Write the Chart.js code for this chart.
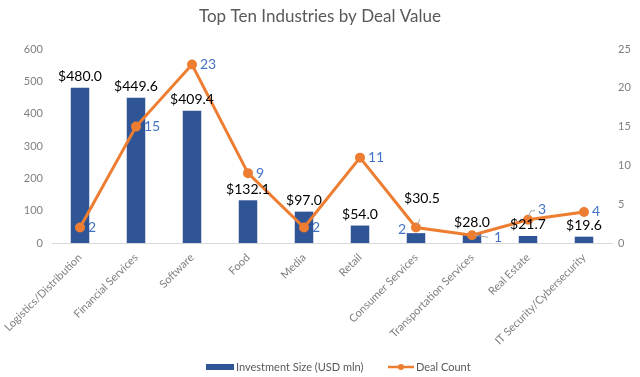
<!DOCTYPE html>
<html>
<head>
<meta charset="utf-8">
<script src="https://cdn.jsdelivr.net/npm/chart.js@4"></script>
<style>
  html, body { margin: 0; padding: 0; background: #fff; }
  #wrap { width: 640px; height: 377px; }
</style>
</head>
<body>
<div id="wrap"><canvas id="chart" width="640" height="377"></canvas></div>
<script>
// data
const industries = [
  "Logistics/Distribution", "Financial Services", "Software", "Food", "Media",
  "Retail", "Consumer Services", "Transportation Services", "Real Estate",
  "IT Security/Cybersecurity"
];
const investment = [480.0, 449.6, 409.4, 132.1, 97.0, 54.0, 30.5, 28.0, 21.7, 19.6];
const dealCount = [2, 15, 23, 9, 2, 11, 2, 1, 3, 4];

const BLUE = "#2F5597";
const ORANGE = "#ED7D31";
const LABEL_BLUE = "#4472C4";
const GREY = "#7F7F7F";
const FONT = "Lato, 'Open Sans', sans-serif";

// label nudges for the few labels Excel moved by hand
const barLabelShift = { 6: [6, -24] };
const countLabelShift = {
  6: { dx: -10, dy: 2, align: "right" },
  7: { dx: 22, dy: 2, align: "left", leader: "flat" },
  8: { dx: 10, dy: -10, align: "left", leader: "elbow" }
};

// value labels, title and legend
const decorations = {
  id: "decorations",
  afterDatasetsDraw(chart) {
    const ctx = chart.ctx;
    ctx.save();

    // bar labels
    const barMeta = chart.getDatasetMeta(1);
    ctx.font = "14px " + FONT;
    ctx.fillStyle = "#000";
    ctx.textAlign = "center";
    ctx.textBaseline = "middle";
    barMeta.data.forEach((bar, i) => {
      const s = barLabelShift[i] || [0, 0];
      ctx.fillText("$" + investment[i].toFixed(1), bar.x + s[0], bar.y - 11 + s[1]);
      if (barLabelShift[i]) {
        ctx.strokeStyle = "#A6A6A6";
        ctx.lineWidth = 1;
        ctx.beginPath();
        ctx.moveTo(bar.x + 4, bar.y - 14);
        ctx.lineTo(bar.x + 1, bar.y - 8);
        ctx.stroke();
      }
    });

    // line labels
    const lineMeta = chart.getDatasetMeta(0);
    ctx.font = "14px " + FONT;
    ctx.fillStyle = LABEL_BLUE;
    lineMeta.data.forEach((pt, i) => {
      const s = countLabelShift[i] || { dx: 8, dy: 0, align: "left" };
      const tx = pt.x + s.dx, ty = pt.y + s.dy;
      ctx.strokeStyle = "#A6A6A6";
      ctx.lineWidth = 1;
      if (s.leader === "elbow") {
        ctx.beginPath();
        ctx.moveTo(pt.x, pt.y - 3);
        ctx.lineTo(pt.x + 3, pt.y - 9);
        ctx.lineTo(pt.x + 7, pt.y - 9);
        ctx.stroke();
      } else if (s.leader === "flat") {
        ctx.beginPath();
        ctx.moveTo(pt.x + 3, pt.y);
        ctx.lineTo(tx - 6, ty);
        ctx.stroke();
      }
      ctx.textAlign = s.align;
      ctx.fillText(String(dealCount[i]), tx, ty);
    });

    // title
    ctx.fillStyle = "#595959";
    ctx.font = "17px " + FONT;
    ctx.textAlign = "center";
    ctx.fillText("Top Ten Industries by Deal Value", 320, 17);

    // legend
    const ly = 367;
    ctx.font = "11px " + FONT;
    ctx.textAlign = "left";
    ctx.fillStyle = BLUE;
    ctx.fillRect(206, ly - 3, 28, 6);
    ctx.fillStyle = "#595959";
    ctx.fillText("Investment Size (USD mln)", 236, ly);
    ctx.strokeStyle = ORANGE;
    ctx.lineWidth = 2.5;
    ctx.beginPath();
    ctx.moveTo(388, ly);
    ctx.lineTo(414, ly);
    ctx.stroke();
    ctx.fillStyle = ORANGE;
    ctx.beginPath();
    ctx.arc(401, ly, 3, 0, Math.PI * 2);
    ctx.fill();
    ctx.fillStyle = "#595959";
    ctx.fillText("Deal Count", 416, ly);

    ctx.restore();
  }
};

new Chart(document.getElementById("chart"), {
  type: "bar",
  data: {
    labels: industries,
    datasets: [
      {
        type: "line",
        label: "Deal Count",
        data: dealCount,
        yAxisID: "y1",
        borderColor: ORANGE,
        backgroundColor: ORANGE,
        borderWidth: 3,
        pointRadius: 3.5,
        tension: 0,
        order: 0
      },
      {
        type: "bar",
        label: "Investment Size (USD mln)",
        data: investment,
        yAxisID: "y",
        backgroundColor: BLUE,
        barPercentage: 0.33,
        categoryPercentage: 1,
        order: 1
      }
    ]
  },
  options: {
    responsive: false,
    animation: false,
    layout: { padding: { top: 49, left: 0, right: 0, bottom: 0 } },
    plugins: {
      legend: { display: false },
      tooltip: { enabled: false }
    },
    scales: {
      x: {
        grid: { display: false, drawTicks: false },
        border: { color: "#D9D9D9" },
        ticks: {
          color: GREY,
          font: { family: FONT, size: 11 },
          minRotation: 45,
          maxRotation: 45,
          padding: 8
        },
        afterFit(scale) {
          scale.height = 134;
          // don't let the rotated first label push the plot area right
          scale.paddingLeft = 0;
          scale.paddingRight = 0;
        }
      },
      y: {
        position: "left",
        min: 0,
        max: 600,
        grid: { display: false, drawTicks: false },
        border: { display: false },
        ticks: {
          stepSize: 100,
          color: GREY,
          font: { family: FONT, size: 11 },
          padding: 9
        },
        afterFit(scale) { scale.width = 52; }
      },
      y1: {
        position: "right",
        min: 0,
        max: 25,
        grid: { display: false, drawTicks: false },
        border: { display: false },
        ticks: {
          stepSize: 5,
          color: GREY,
          font: { family: FONT, size: 11 },
          padding: 6
        },
        afterFit(scale) { scale.width = 28; }
      }
    }
  },
  plugins: [decorations]
});
</script>
</body>
</html>
